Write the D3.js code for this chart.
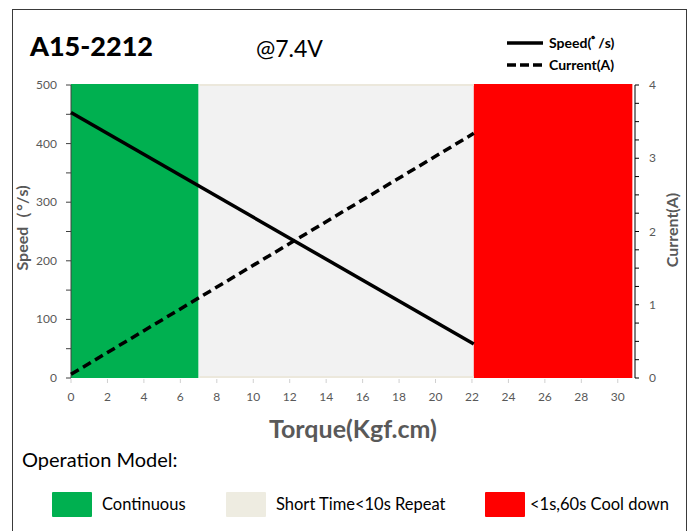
<!DOCTYPE html>
<html>
<head>
<meta charset="utf-8">
<script src="https://cdn.jsdelivr.net/npm/d3@7"></script>
<style>
  body { margin: 0; background: #fff; }
  text { font-family: Lato, "Open Sans", sans-serif; }
</style>
</head>
<body>
<div id="chart"></div>
<script>
// torque (Kgf.cm) at the two ends of the curves
var torque  = [0, 22.1];
var speed   = [453, 58];     // deg/s
var current = [0.05, 3.34];  // A

// operation zones
var zone_names  = ['Continuous', 'Short Time<10s Repeat', '<1s,60s Cool down'];
var zone_start  = [0, 7, 22.1];
var zone_end    = [7, 22.1, 30.8];
var zone_colors = ['#00b050', '#f2f2f2', '#ff0000'];
var zone_keys   = ['#00b050', '#eeece1', '#ff0000'];

var x_ticks     = d3.range(0, 31, 2);
var speed_ticks = d3.range(0, 501, 100);
var cur_ticks   = d3.range(0, 5, 1);

var W = 690, H = 531;
var svg = d3.select('#chart').append('svg')
  .attr('width', W)
  .attr('height', H);

svg.append('rect')
  .attr('x', 12.5).attr('y', 9.5)
  .attr('width', 674).attr('height', 530)
  .attr('fill', 'none')
  .attr('stroke', '#3a3a3a')
  .attr('stroke-width', 1);

var x = d3.scaleLinear().domain([0, 31]).range([71, 636]);
var y = d3.scaleLinear().domain([0, 500]).range([378, 85]);
var y2 = d3.scaleLinear().domain([0, 4]).range([378, 85]);

// zones
svg.selectAll('rect.zone')
  .data(zone_start).enter()
  .append('rect')
  .attr('class', 'zone')
  .attr('x', (d) => x(d))
  .attr('y', y(500) - 1)
  .attr('width', (d,i) => x(zone_end[i]) - x(d))
  .attr('height', y(0) - y(500) + 1)
  .style('fill', (d,i) => zone_colors[i]);

// beige edges of the middle zone
[y(500) - 1, y(0) - 2].forEach((yy) => {
  svg.append('rect')
    .attr('x', x(zone_start[1]) + 1)
    .attr('y', yy)
    .attr('width', x(zone_end[1]) - x(zone_start[1]) - 1)
    .attr('height', 2)
    .style('fill', '#ece8dc');
});

// x axis ticks
var gx = svg.append('g');
gx.selectAll('line')
  .data(x_ticks).enter()
  .append('line')
  .attr('x1', (d) => x(d)).attr('x2', (d) => x(d))
  .attr('y1', 379).attr('y2', 383)
  .attr('stroke', '#d0d0d0');
gx.selectAll('text')
  .data(x_ticks).enter()
  .append('text')
  .attr('x', (d) => x(d))
  .attr('y', 401)
  .attr('text-anchor', 'middle')
  .attr('font-size', 12)
  .attr('fill', '#595959')
  .text((d) => d);

// left axis
var gl = svg.append('g');
gl.append('line')
  .attr('x1', 71).attr('x2', 71)
  .attr('y1', y(500)).attr('y2', y(0))
  .attr('stroke', '#404040');
gl.selectAll('line.t')
  .data(d3.range(0, 501, 50)).enter()
  .append('line')
  .attr('class', 't')
  .attr('x1', 66).attr('x2', 71)
  .attr('y1', (d) => y(d)).attr('y2', (d) => y(d))
  .attr('stroke', '#404040');
gl.selectAll('text')
  .data(speed_ticks).enter()
  .append('text')
  .attr('x', 57)
  .attr('y', (d) => y(d) + 4)
  .attr('text-anchor', 'end')
  .attr('font-size', 12)
  .attr('fill', '#595959')
  .text((d) => d);

// right axis
var gr = svg.append('g');
gr.append('line')
  .attr('x1', 635).attr('x2', 635)
  .attr('y1', y2(4)).attr('y2', y2(0))
  .attr('stroke', '#000');
gr.selectAll('line.t')
  .data(d3.range(0, 4.01, 0.25)).enter()
  .append('line')
  .attr('class', 't')
  .attr('x1', 635).attr('x2', 639)
  .attr('y1', (d) => y2(d)).attr('y2', (d) => y2(d))
  .attr('stroke', '#000');
gr.selectAll('text')
  .data(cur_ticks).enter()
  .append('text')
  .attr('x', 649)
  .attr('y', (d) => y2(d) + 4)
  .attr('font-size', 12)
  .attr('fill', '#595959')
  .text((d) => d);

// curves
var speed_line = d3.line().x((d,i) => x(torque[i])).y((d) => y(d));
var cur_line   = d3.line().x((d,i) => x(torque[i])).y((d) => y2(d));

svg.append('path')
  .attr('d', speed_line(speed))
  .attr('fill', 'none')
  .attr('stroke', '#000')
  .attr('stroke-width', 3.5);

svg.append('path')
  .attr('d', cur_line(current))
  .attr('fill', 'none')
  .attr('stroke', '#000')
  .attr('stroke-width', 3.5)
  .attr('stroke-dasharray', '9,5');

// titles
svg.append('text')
  .attr('x', 30).attr('y', 56)
  .attr('font-size', 27).attr('font-weight', 900)
  .attr('fill', '#000')
  .text('A15-2212');

svg.append('text')
  .attr('x', 256).attr('y', 57)
  .attr('font-size', 23)
  .attr('fill', '#000')
  .text('@7.4V');

// series legend
[['Speed(ﾟ/s)', 43, null], ['Current(A)', 65, '9,4']].forEach((l) => {
  svg.append('line')
    .attr('x1', 507).attr('x2', 543)
    .attr('y1', l[1]).attr('y2', l[1])
    .attr('stroke', '#000')
    .attr('stroke-width', 3.5)
    .attr('stroke-dasharray', l[2]);
  svg.append('text')
    .attr('x', 549).attr('y', l[1] + 5)
    .attr('font-size', 14).attr('font-weight', 'bold')
    .attr('fill', '#000')
    .text(l[0]);
});

// axis titles
svg.append('text')
  .attr('transform', 'translate(28,228) rotate(-90)')
  .attr('text-anchor', 'middle')
  .attr('font-size', 16).attr('font-weight', 'bold')
  .attr('fill', '#595959')
  .text('Speed（°/s)');

svg.append('text')
  .attr('transform', 'translate(678,230) rotate(-90)')
  .attr('text-anchor', 'middle')
  .attr('font-size', 16).attr('font-weight', 'bold')
  .attr('fill', '#595959')
  .text('Current(A)');

svg.append('text')
  .attr('x', 353).attr('y', 438)
  .attr('text-anchor', 'middle')
  .attr('font-size', 25).attr('font-weight', 'bold')
  .attr('fill', '#595959')
  .text('Torque(Kgf.cm)');

// zone legend
svg.append('text')
  .attr('x', 22).attr('y', 467)
  .attr('font-size', 20)
  .attr('fill', '#000')
  .text('Operation Model:');

var key_x = [52, 226, 485];
var kg = svg.selectAll('g.key')
  .data(zone_names).enter()
  .append('g')
  .attr('class', 'key')
  .attr('transform', (d,i) => `translate(${key_x[i]},492)`);
kg.append('rect')
  .attr('width', 40).attr('height', 25)
  .attr('rx', 1)
  .style('fill', (d,i) => zone_keys[i]);
kg.append('text')
  .attr('x', (d,i) => i === 2 ? 45 : 50)
  .attr('y', 18)
  .attr('font-size', 16.5)
  .attr('fill', '#000')
  .text((d) => d);
</script>
</body>
</html>
